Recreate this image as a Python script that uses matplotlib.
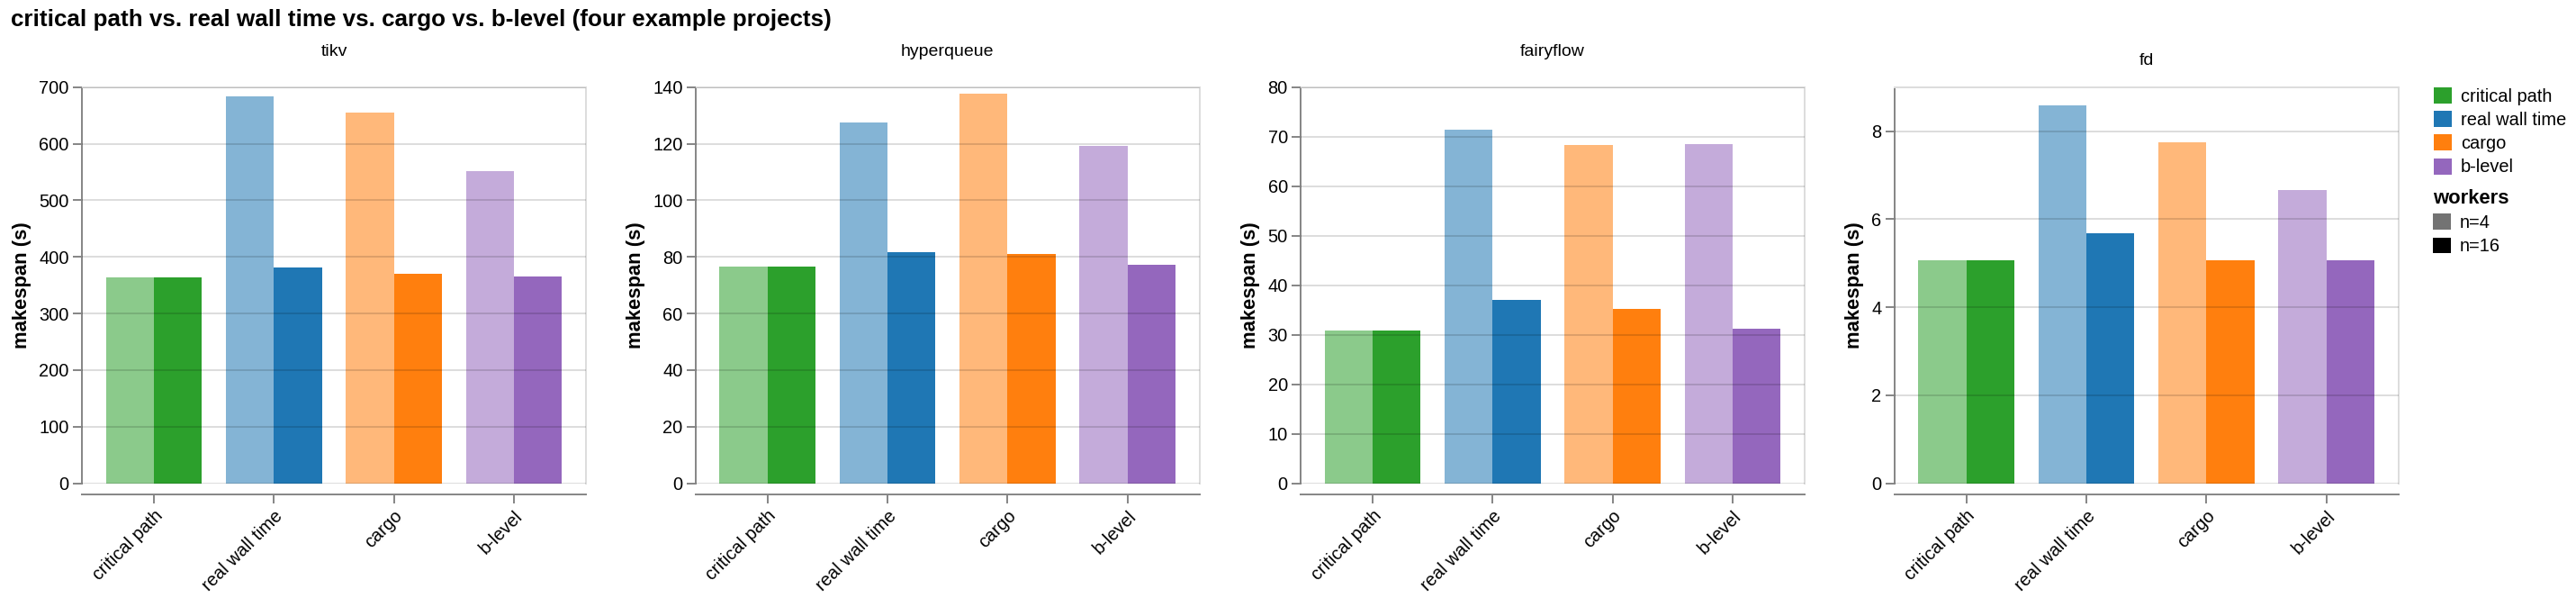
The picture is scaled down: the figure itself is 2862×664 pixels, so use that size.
import matplotlib
matplotlib.use("Agg")
import matplotlib.pyplot as plt
from matplotlib.patches import Patch
import numpy as np

plt.rcParams['font.family'] = ['Liberation Sans', 'DejaVu Sans']

# ---------------- data ----------------
categories = ['critical path', 'real wall time', 'cargo', 'b-level']
projects = ['tikv', 'hyperqueue', 'fairyflow', 'fd']

tikv_n4 = [364, 683, 655, 551]
tikv_n16 = [364, 381, 370, 365]
hyperqueue_n4 = [76.7, 127.5, 137.6, 119.2]
hyperqueue_n16 = [76.7, 81.6, 81.1, 77.1]
fairyflow_n4 = [30.9, 71.4, 68.3, 68.4]
fairyflow_n16 = [30.9, 37.0, 35.2, 31.2]
fd_n4 = [5.07, 8.58, 7.75, 6.66]
fd_n16 = [5.07, 5.68, 5.07, 5.07]

worker_labels = ['n=4', 'n=16']
title = 'critical path vs. real wall time vs. cargo vs. b-level (four example projects)'
y_title = 'makespan (s)'
legend_title = 'workers'

# ---------------- style ----------------
colors = ['#2ca02c', '#1f77b4', '#ff7f0e', '#9467bd']
light_alpha = 0.55
ylims = [700, 140, 80, 9]
ysteps = [100, 20, 10, 2]

W, H = 2862, 664
fig = plt.figure(figsize=(W / 100, H / 100), dpi=100)

lefts = [91, 772.7, 1445, 2104.7]
pw, top_px, bot_px = 560, 96.7, 536.7

series = [(tikv_n4, tikv_n16), (hyperqueue_n4, hyperqueue_n16),
          (fairyflow_n4, fairyflow_n16), (fd_n4, fd_n16)]

grey = '#888888'
lw = 1.44
x = np.arange(len(categories))
bw = 0.4

for i, (proj, (v4, v16)) in enumerate(zip(projects, series)):
    ax = fig.add_axes([lefts[i] / W, (H - bot_px) / H, pw / W, (bot_px - top_px) / H])
    for s in ['top', 'right']:
        ax.spines[s].set_color('#dddddd')
        ax.spines[s].set_linewidth(lw)
    ax.spines['left'].set_color(grey)
    ax.spines['left'].set_linewidth(lw)
    ax.spines['bottom'].set_color(grey)
    ax.spines['bottom'].set_linewidth(lw)
    ax.spines['bottom'].set_position(('outward', 8.9))

    ax.bar(x - bw / 2, v4, width=bw, color=colors, alpha=light_alpha, linewidth=0, zorder=1)
    ax.bar(x + bw / 2, v16, width=bw, color=colors, linewidth=0, zorder=1)
    ax.set_xlim(-0.6, len(categories) - 0.4)
    ax.set_ylim(0, ylims[i])
    ax.set_yticks(np.arange(0, ylims[i] + 1e-9, ysteps[i]))
    ax.yaxis.set_major_formatter(matplotlib.ticker.FuncFormatter(lambda v, p: f'{v:g}'))
    ax.set_xticks(x)
    ax.set_xticklabels(categories)
    ax.grid(axis='y', color='black', alpha=0.135, linewidth=lw, zorder=3)
    ax.set_axisbelow(False)
    ax.tick_params(axis='both', length=7.2, width=lw, color=grey, labelsize=14.4,
                   labelcolor='black', pad=3)
    for lab in ax.get_xticklabels():
        lab.set_rotation(45)
        lab.set_ha('right')
        lab.set_va('top')
        lab.set_rotation_mode('anchor')
    ax.set_ylabel(y_title, fontsize=15.84, fontweight='bold', labelpad=6)
    pad = 24.8 if ylims[i] % ysteps[i] == 0 else 17.6
    ax.set_title(proj, fontsize=14, pad=pad)

fig.text(11.7 / W, 1 - 29.3 / H, title, fontsize=18.72, fontweight='bold',
         ha='left', va='baseline')

h1 = [Patch(facecolor=c, edgecolor='none') for c in colors]
leg1 = fig.legend(h1, categories, loc='upper left', bbox_to_anchor=(2704 / W, 1 - 97 / H),
                  frameon=False, fontsize=14.4, handlelength=1.0, handleheight=1.0,
                  handletextpad=0.5, labelspacing=0.32, borderpad=0, borderaxespad=0)
h2 = [Patch(facecolor='#737373', edgecolor='none'), Patch(facecolor='black', edgecolor='none')]
leg2 = fig.legend(h2, worker_labels, title=legend_title, loc='upper left',
                  bbox_to_anchor=(2703 / W, 1 - 210 / H), frameon=False, fontsize=14.4,
                  title_fontproperties={'weight': 'bold', 'size': 15.84},
                  handlelength=1.0, handleheight=1.0, handletextpad=0.5, labelspacing=0.32,
                  borderpad=0, borderaxespad=0, alignment='left')

fig.savefig('out.png', dpi=100)
